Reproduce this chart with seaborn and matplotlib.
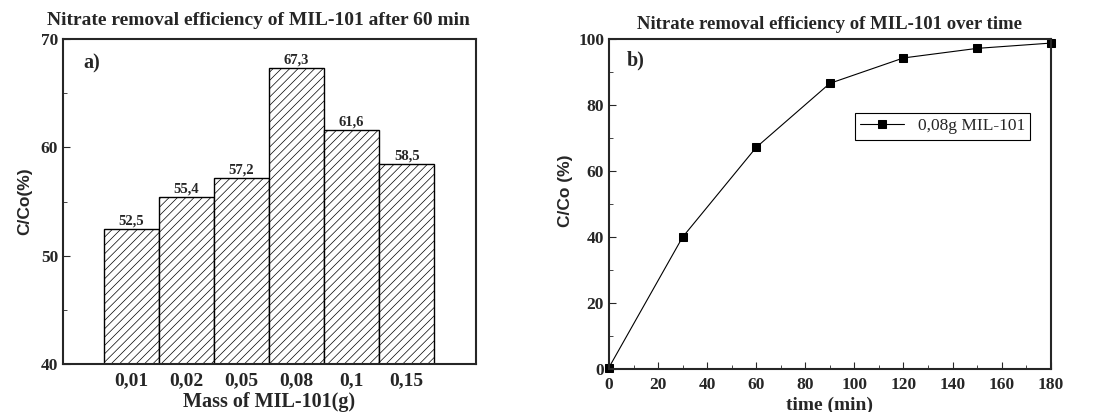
import numpy as np
import pandas as pd
import matplotlib
matplotlib.use("Agg")
import matplotlib.pyplot as plt
from matplotlib.ticker import MultipleLocator
import seaborn as sns

# data
masses = ["0,01", "0,02", "0,05", "0,08", "0,1", "0,15"]
removal_60min = [52.5, 55.4, 57.2, 67.3, 61.6, 58.5]

times = [0, 30, 60, 90, 120, 150, 180]
removal_time = [0.5, 40.0, 67.2, 86.6, 94.3, 97.2, 98.8]

sns.set_style("ticks")
plt.rcParams['font.family'] = ['Liberation Serif', 'DejaVu Serif']
plt.rcParams['hatch.linewidth'] = 0.5
plt.rcParams['xtick.direction'] = 'in'
plt.rcParams['ytick.direction'] = 'in'

fig = plt.figure(figsize=(11.06, 4.12), dpi=100)
ax1 = fig.add_axes([0.057, 0.1165, 0.373, 0.7885])
ax2 = fig.add_axes([0.5506, 0.104, 0.3994, 0.801])

# a) bars
df_bar = pd.DataFrame({'mass': masses, 'removal': removal_60min})
sns.barplot(data=df_bar, x='mass', y='removal', ax=ax1, color='white',
            edgecolor='black', linewidth=1.0, width=1.0, saturation=1)
for p in ax1.patches:
    p.set_hatch('////')
ax1.bar_label(ax1.containers[0],
              labels=[f"{v}".replace('.', ',') for v in removal_60min],
              fontsize=10.5, fontweight='bold', padding=1)
ax1.set_ylim(40, 70)
ax1.set_xlim(-1.24, 6.25)
ax1.yaxis.set_major_locator(MultipleLocator(10))
ax1.yaxis.set_minor_locator(MultipleLocator(5))
ax1.tick_params(axis='x', length=0, labelsize=14, pad=6)
ax1.tick_params(axis='y', which='major', length=5, labelsize=12.5)
ax1.tick_params(axis='y', which='minor', length=3)
for lab in ax1.get_xticklabels() + ax1.get_yticklabels():
    lab.set_fontweight('bold')
ax1.set_xlabel('Mass of MIL-101(g)', fontsize=14.5, fontweight='bold', labelpad=2)
ax1.set_ylabel('C/Co(%)', fontsize=12.5, fontweight='bold', labelpad=6,
               family=['Liberation Sans', 'DejaVu Sans'])
ax1.set_title('Nitrate removal efficiency of MIL-101 after 60 min',
              fontsize=14, fontweight='bold', pad=10, x=0.473)
ax1.text(0.05, 0.925, 'a)', transform=ax1.transAxes, fontsize=14.5,
         fontweight='bold', va='center')
for s in ax1.spines.values():
    s.set_linewidth(1.5)

# b) line
df_line = pd.DataFrame({'time': times, 'removal': removal_time})
sns.lineplot(data=df_line, x='time', y='removal', ax=ax2, color='black',
             linewidth=0.8, marker='s', markersize=5.5, markeredgecolor='black',
             label='0,08g MIL-101', clip_on=False)
ax2.set_xlim(0, 180)
ax2.set_ylim(0, 100)
ax2.xaxis.set_major_locator(MultipleLocator(20))
ax2.xaxis.set_minor_locator(MultipleLocator(10))
ax2.yaxis.set_major_locator(MultipleLocator(20))
ax2.yaxis.set_minor_locator(MultipleLocator(10))
ax2.tick_params(which='major', length=5, labelsize=12.5)
ax2.tick_params(which='minor', length=3)
ax2.tick_params(axis='x', pad=6)
for lab in ax2.get_xticklabels() + ax2.get_yticklabels():
    lab.set_fontweight('bold')
ax2.set_xlabel('time (min)', fontsize=14, fontweight='bold', labelpad=2)
ax2.set_ylabel('C/Co (%)', fontsize=12.5, fontweight='bold', labelpad=4,
               y=0.54, family=['Liberation Sans', 'DejaVu Sans'])
ax2.set_title('Nitrate removal efficiency of MIL-101 over time',
              fontsize=13.5, fontweight='bold', pad=7)
ax2.text(0.04, 0.935, 'b)', transform=ax2.transAxes, fontsize=14.5,
         fontweight='bold', va='center')
leg = ax2.legend(loc='upper left', bbox_to_anchor=(0.557, 0.776),
                 borderaxespad=0, fancybox=False, edgecolor='black',
                 fontsize=12.5, handlelength=2.5, borderpad=0.3, framealpha=1)
leg.get_frame().set_linewidth(0.8)
for s in ax2.spines.values():
    s.set_linewidth(1.5)

fig.savefig('out.png', dpi=100)
